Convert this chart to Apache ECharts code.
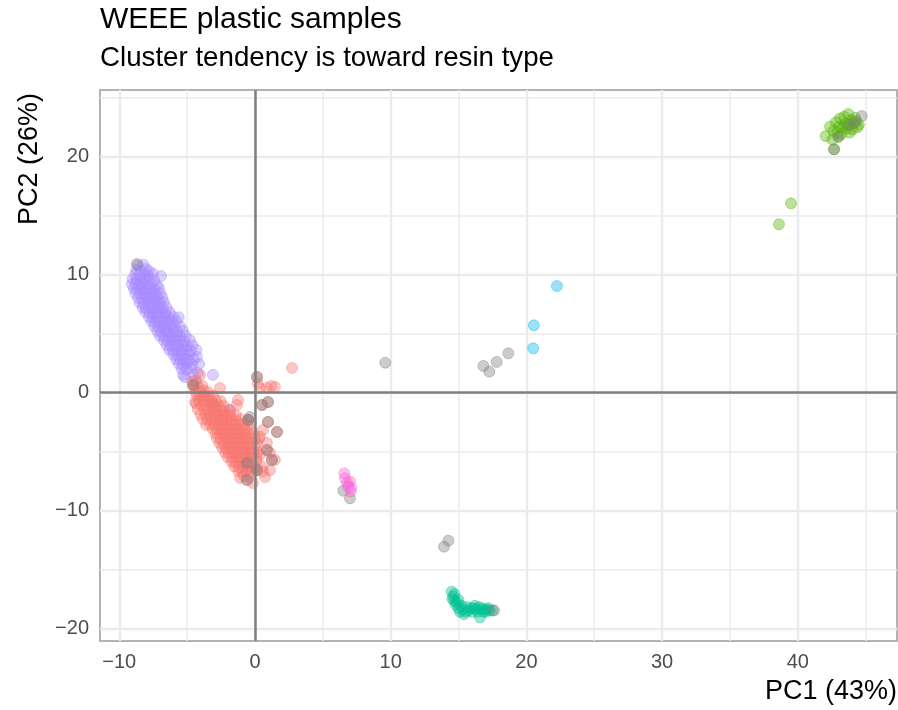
<!DOCTYPE html>
<html>
<head>
<meta charset="utf-8">
<title>WEEE plastic samples</title>
<script src="https://cdn.jsdelivr.net/npm/echarts@6/dist/echarts.min.js"></script>
<style>
html, body { margin: 0; padding: 0; background: #fff; }
#main { width: 898px; height: 710px; }
</style>
</head>
<body>
<div id="main"></div>
<script>
// axis extents and breaks
var xMin = -11.42, xMax = 47.31
var yMin = -21.08, yMax = 25.66
var xBreaks = [-10, 0, 10, 20, 30, 40]
var xMinorBreaks = [-5, 5, 15, 25, 35, 45]
var yBreaks = [-20, -10, 0, 10, 20]
var yMinorBreaks = [-15, -5, 5, 15, 25]

// PC1 / PC2 scores, one array per resin group
var groupA = [ // purple
  [-8.62,10.78],[-8.21,10.84],
  [-8.74,10.41],[-8.43,10.35],[-8.05,10.46],[-7.82,10.30],
  [-8.83,10.02],[-8.52,9.95],[-8.18,10.06],[-7.91,9.93],[-7.52,10.08],[-6.93,9.88],
  [-9.02,9.62],[-8.71,9.55],[-8.38,9.68],[-8.12,9.57],[-7.80,9.64],[-7.43,9.52],
  [-9.08,9.18],[-8.79,9.24],[-8.51,9.12],[-8.22,9.26],[-7.93,9.15],[-7.61,9.21],[-7.22,9.10],
  [-8.92,8.82],[-8.63,8.76],[-8.31,8.85],[-8.02,8.72],[-7.71,8.81],[-7.42,8.74],[-7.08,8.86],
  [-8.81,8.41],[-8.49,8.35],[-8.21,8.46],[-7.90,8.38],[-7.62,8.44],[-7.31,8.33],[-6.98,8.42],
  [-8.63,8.02],[-8.32,7.95],[-8.01,8.07],[-7.72,7.96],[-7.41,8.04],[-7.12,7.93],[-6.81,8.05],
  [-8.48,7.61],[-8.19,7.55],[-7.92,7.66],[-7.61,7.57],[-7.32,7.63],[-7.01,7.54],[-6.72,7.65],
  [-8.29,7.22],[-8.02,7.15],[-7.71,7.26],[-7.43,7.17],[-7.12,7.24],[-6.81,7.13],[-6.52,7.21],
  [-8.08,6.82],[-7.79,6.75],[-7.52,6.86],[-7.21,6.77],[-6.92,6.84],[-6.61,6.73],[-6.28,6.81],
  [-7.82,6.42],[-7.53,6.35],[-7.21,6.46],[-6.92,6.37],[-6.63,6.44],[-6.31,6.33],[-6.02,6.41],[-5.62,6.38],
  [-7.61,6.02],[-7.32,5.96],[-7.03,6.07],[-6.71,5.95],[-6.42,6.04],[-6.12,5.93],[-5.81,6.05],
  [-7.42,5.62],[-7.11,5.55],[-6.82,5.66],[-6.52,5.57],[-6.21,5.64],[-5.92,5.53],[-5.52,5.61],
  [-7.21,5.22],[-6.92,5.15],[-6.61,5.26],[-6.32,5.17],[-6.01,5.24],[-5.72,5.13],[-5.31,5.21],
  [-7.02,4.82],[-6.71,4.75],[-6.42,4.86],[-6.11,4.77],[-5.82,4.84],[-5.51,4.73],[-5.12,4.81],
  [-6.72,4.42],[-6.41,4.35],[-6.12,4.46],[-5.81,4.37],[-5.52,4.44],[-5.21,4.33],[-4.79,4.45],
  [-6.51,4.02],[-6.22,3.95],[-5.91,4.06],[-5.62,3.97],[-5.31,4.04],[-5.02,3.93],[-4.61,4.01],
  [-6.31,3.62],[-6.02,3.55],[-5.71,3.66],[-5.42,3.57],[-5.11,3.64],[-4.72,3.53],[-4.31,3.61],
  [-6.02,3.22],[-5.71,3.15],[-5.42,3.26],[-5.11,3.17],[-4.82,3.24],[-4.27,3.02],
  [-5.82,2.82],[-5.51,2.75],[-5.22,2.86],[-4.91,2.77],[-4.52,2.84],
  [-5.61,2.42],[-5.32,2.35],[-5.01,2.46],[-4.62,2.37],[-4.12,2.41],
  [-5.41,2.02],[-5.02,1.95],[-4.71,2.06],
  [-5.30,1.48],[-5.16,1.31],[-4.52,1.52],[-4.20,1.65],[-3.10,1.50],
  [-4.41,1.02],[-3.10,-0.90],[-1.84,-1.48]
]
var groupB = [ // red
  [-4.62,0.92],[-4.31,0.84],
  [-4.52,0.52],[-4.18,0.45],[-3.88,0.56],
  [-4.41,0.12],[-4.08,0.05],[-3.79,0.16],[-3.48,0.07],
  [-4.28,-0.28],[-3.98,-0.35],[-3.71,-0.24],[-3.39,-0.33],[-3.08,-0.26],
  [-4.12,-0.68],[-3.81,-0.75],[-3.52,-0.64],[-3.21,-0.73],[-2.88,-0.66],[-2.52,-0.74],
  [-3.92,-1.08],[-3.61,-1.15],[-3.32,-1.04],[-3.01,-1.13],[-2.72,-1.06],[-2.31,-1.14],
  [-3.72,-1.48],[-3.41,-1.55],[-3.12,-1.44],[-2.81,-1.53],[-2.52,-1.46],[-2.21,-1.54],[-1.88,-1.47],
  [-3.61,-1.88],[-3.32,-1.95],[-3.01,-1.84],[-2.72,-1.93],[-2.41,-1.86],[-2.12,-1.94],[-1.81,-1.87],[-1.42,-1.92],
  [-3.52,-2.28],[-3.21,-2.35],[-2.92,-2.24],[-2.61,-2.33],[-2.32,-2.26],[-2.01,-2.34],[-1.72,-2.27],[-1.41,-2.35],[-1.02,-2.26],[-0.52,-2.32],
  [-3.31,-2.68],[-3.02,-2.75],[-2.71,-2.64],[-2.42,-2.73],[-2.11,-2.66],[-1.82,-2.74],[-1.51,-2.67],[-1.22,-2.75],[-0.91,-2.66],[-0.48,-2.72],
  [-3.12,-3.08],[-2.81,-3.15],[-2.52,-3.04],[-2.21,-3.13],[-1.92,-3.06],[-1.61,-3.14],[-1.32,-3.07],[-1.01,-3.15],[-0.72,-3.06],[-0.28,-3.12],
  [-2.92,-3.48],[-2.61,-3.55],[-2.32,-3.44],[-2.01,-3.53],[-1.72,-3.46],[-1.41,-3.54],[-1.12,-3.47],[-0.81,-3.55],[-0.52,-3.46],[-0.12,-3.52],
  [-2.81,-3.88],[-2.52,-3.95],[-2.21,-3.84],[-1.92,-3.93],[-1.61,-3.86],[-1.32,-3.94],[-1.01,-3.87],[-0.72,-3.95],[-0.41,-3.86],[0.02,-3.92],
  [-2.62,-4.28],[-2.31,-4.35],[-2.02,-4.24],[-1.71,-4.33],[-1.42,-4.26],[-1.11,-4.34],[-0.82,-4.27],[-0.51,-4.35],[-0.22,-4.26],[0.12,-4.32],
  [-2.42,-4.68],[-2.11,-4.75],[-1.82,-4.64],[-1.51,-4.73],[-1.22,-4.66],[-0.91,-4.74],[-0.62,-4.67],[-0.31,-4.75],[0.02,-4.66],
  [-2.21,-5.08],[-1.92,-5.15],[-1.61,-5.04],[-1.32,-5.13],[-1.01,-5.06],[-0.72,-5.14],[-0.41,-5.07],[-0.12,-5.15],[0.21,-5.06],
  [-2.02,-5.48],[-1.71,-5.55],[-1.42,-5.44],[-1.11,-5.53],[-0.82,-5.46],[-0.51,-5.54],[-0.22,-5.47],[0.11,-5.55],
  [-1.72,-5.88],[-1.41,-5.95],[-1.12,-5.84],[-0.81,-5.93],[-0.52,-5.86],[-0.21,-5.94],[0.12,-5.87],
  [-1.52,-6.28],[-1.21,-6.35],[-0.92,-6.24],[-0.61,-6.33],[-0.32,-6.26],[0.01,-6.34],
  [-1.22,-6.68],[-0.91,-6.75],[-0.62,-6.64],[-0.31,-6.73],[0.02,-6.66],
  [-0.82,-7.08],[-0.41,-7.15],
  [-4.42,-0.78],[-4.35,-0.95],[-4.22,-1.42],[-4.02,-1.85],[-3.85,-2.25],[-3.60,-2.75],
  [2.73,2.08],[1.47,0.47],[0.88,0.38],[0.37,0.38],[-2.58,0.38],[-1.25,-0.64],[-1.33,-1.06],[-4.05,1.48],
  [0.59,-3.18],[0.88,-4.28],[0.74,-7.17],[-1.10,-7.25],[-0.15,-7.68],[1.10,-6.60],[1.47,-5.70],[0.37,-5.30],
  [0.55,-6.30],[0.30,-3.90],[0.37,-3.75],[1.10,-5.10],[0.59,-6.70],[0.20,0.75],[1.20,0.55],
  [0.15,1.31],[0.52,-1.06],[0.96,-0.81],[0.96,-2.50],[1.62,-3.35],[0.88,-4.88],[1.25,-5.73],
  [-0.59,-5.98],[0.15,-6.57],[-0.59,-7.42],[-4.55,0.64],[-0.49,-2.33]
]
var groupC = [ // teal
  [14.49,-16.90],[14.62,-17.30],[14.70,-17.70],[14.55,-17.50],[14.80,-18.00],[15.00,-18.30],
  [15.10,-18.60],[15.30,-18.40],[15.50,-18.60],[15.70,-18.50],[15.90,-18.30],[16.10,-18.30],
  [16.30,-18.40],[16.50,-18.20],[16.70,-18.30],[16.90,-18.40],[17.10,-18.40],[17.30,-18.50],
  [17.50,-18.50],[16.58,-19.07],[15.40,-18.80],[16.00,-18.60],[16.40,-18.60],[16.80,-18.60],
  [17.20,-18.30],[15.20,-18.10],[14.90,-17.80],[15.60,-18.20],[16.20,-18.10],[17.00,-18.60],
  [14.70,-17.10],[15.00,-17.60]
]
var groupD = [ // green
  [38.61,14.27],[39.50,16.05],
  [42.05,21.75],[42.38,22.55],[42.62,22.20],[42.81,22.92],[43.11,23.25],[43.30,22.52],
  [43.52,22.83],[43.72,23.62],[43.92,23.10],[44.12,22.82],[44.31,23.02],[44.50,22.72],
  [42.92,22.02],[43.22,21.92],[43.62,22.41],[44.02,22.32],[43.42,23.40],[42.55,21.45],
  [44.22,23.30],[43.82,22.05],[43.70,22.70],[44.40,22.50],[43.05,22.55],[42.67,20.63],[42.99,21.70]
]
var groupE = [ // blue
  [20.50,3.75],[20.55,5.70],[22.25,9.03]
]
var groupF = [ // pink
  [6.58,-6.86],[6.63,-7.28],[7.00,-7.56],[7.05,-8.41],[6.88,-7.99],[6.78,-7.70],[7.10,-8.10]
]
var groupNA = [ // unassigned (grey)
  [-8.70,10.90],[-4.55,0.64],[0.15,1.31],[0.52,-1.06],[0.96,-0.81],[-0.37,-2.08],[-0.49,-2.33],
  [0.96,-2.50],[1.62,-3.35],[0.88,-4.88],[1.25,-5.73],[-0.59,-5.98],[0.15,-6.57],[-0.59,-7.42],
  [9.60,2.52],[16.83,2.25],[17.27,1.77],[17.81,2.59],[18.67,3.32],
  [6.51,-8.33],[7.00,-8.97],
  [14.25,-12.57],[13.93,-13.08],
  [17.62,-18.48],
  [44.71,23.45],[42.67,20.63],[42.99,21.70],[43.85,22.69],[44.20,22.90]
]

var groupNames = ['A', 'B', 'C', 'D', 'NA', 'E', 'F']
var groupData = [groupA, groupB, groupC, groupD, groupNA, groupE, groupF]
var groupRgb = ['165,138,255', '248,118,109', '0,192,148', '83,180,0', '127,127,127', '0,182,235', '251,97,215']

var fontFamily = '"Liberation Sans", Arial, Helvetica, sans-serif'

function minus(v) {
  return String(v).replace('-', '\u2212')
}

function pointSeries(i) {
  var c = 'rgba(' + groupRgb[i] + ',0.4)'
  return {
    name: groupNames[i],
    type: 'scatter',
    data: groupData[i],
    symbolSize: 11,
    z: 3,
    silent: true,
    itemStyle: { color: c, borderColor: c, borderWidth: 1, opacity: 1 },
    emphasis: { disabled: true }
  }
}

/** 参考线：网格线 / 零线 */
function lineSeries(xs, ys, color, width, z) {
  var lines = xs.map(function (v) { return { xAxis: v } })
    .concat(ys.map(function (v) { return { yAxis: v } }))
  return {
    type: 'scatter',
    data: [],
    silent: true,
    z: z,
    markLine: {
      z: z,
      silent: true,
      animation: false,
      symbol: ['none', 'none'],
      label: { show: false },
      emphasis: { disabled: true },
      lineStyle: { color: color, width: width, type: 'solid' },
      data: lines
    }
  }
}

var chartObj = echarts.init(document.getElementById('main'))

var series = [
  lineSeries(xMinorBreaks, yMinorBreaks, '#EBEBEB', 1.5, 1),
  lineSeries(xBreaks, yBreaks, '#EBEBEB', 2.4, 1)
]
for (var i = 0; i < groupData.length; i++) {
  series.push(pointSeries(i))
}
series.push(lineSeries([0], [0], '#7F7F7F', 2.5, 4))

var option = {
  animation: false,
  backgroundColor: '#fff',
  title: [
    {
      text: 'WEEE plastic samples',
      left: 100,
      top: 5,
      padding: 0,
      textStyle: { fontSize: 30, fontWeight: 'normal', color: '#000', fontFamily: fontFamily }
    },
    {
      text: 'Cluster tendency is toward resin type',
      left: 100,
      top: 44,
      padding: 0,
      textStyle: { fontSize: 27.7, fontWeight: 'normal', color: '#000', fontFamily: fontFamily }
    }
  ],
  grid: {
    left: 100,
    right: 1,
    top: 90,
    bottom: 69,
    show: true,
    backgroundColor: 'transparent',
    borderColor: '#B3B3B3',
    borderWidth: 2,
    outerBoundsMode: 'none'
  },
  xAxis: {
    type: 'value',
    min: xMin,
    max: xMax,
    axisLine: { show: false },
    splitLine: { show: false },
    axisTick: {
      show: true,
      customValues: xBreaks,
      length: 6,
      lineStyle: { color: '#333', width: 2 }
    },
    axisLabel: {
      customValues: xBreaks,
      margin: 11,
      fontSize: 20,
      color: '#4D4D4D',
      fontFamily: fontFamily,
      formatter: minus
    }
  },
  yAxis: {
    type: 'value',
    min: yMin,
    max: yMax,
    axisLine: { show: false },
    splitLine: { show: false },
    axisTick: {
      show: true,
      customValues: yBreaks,
      length: 6,
      lineStyle: { color: '#333', width: 2 }
    },
    axisLabel: {
      customValues: yBreaks,
      margin: 11,
      fontSize: 20,
      color: '#4D4D4D',
      fontFamily: fontFamily,
      formatter: minus
    }
  },
  graphic: [
    {
      type: 'text',
      x: 897,
      y: 692,
      style: {
        text: 'PC1 (43%)', fontSize: 27, fontFamily: fontFamily, fill: '#000',
        align: 'right', verticalAlign: 'middle'
      }
    },
    {
      type: 'text',
      x: 30,
      y: 93,
      rotation: Math.PI / 2,
      style: {
        text: 'PC2 (26%)', fontSize: 27, fontFamily: fontFamily, fill: '#000',
        align: 'right', verticalAlign: 'middle'
      }
    }
  ],
  series: series
}

chartObj.setOption(option, true)
</script>
</body>
</html>
